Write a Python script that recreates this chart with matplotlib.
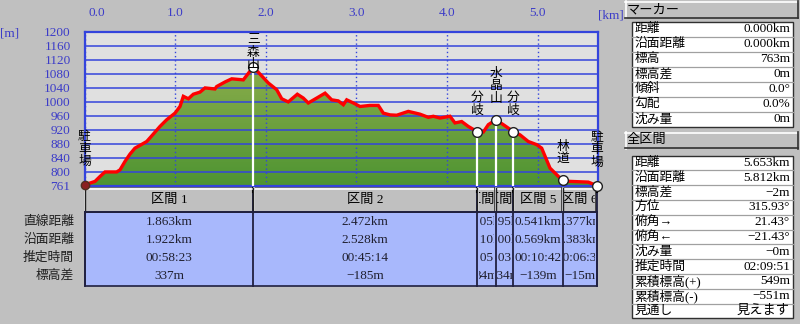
import matplotlib
matplotlib.use('Agg')
import matplotlib.pyplot as plt
import numpy as np
from matplotlib.patches import Rectangle
from matplotlib.lines import Line2D
from matplotlib.transforms import Bbox, ScaledTranslation
from matplotlib.colors import LinearSegmentedColormap

plt.rcParams['font.family'] = ['Liberation Serif', 'Noto Sans CJK JP']

# ---------------- data ----------------
dist_km = [0.000, 0.116, 0.171, 0.226, 0.355, 0.392, 0.447, 0.502, 0.557, 0.613,
           0.687, 0.759, 0.833, 0.907, 0.999, 1.054, 1.091, 1.146, 1.201, 1.275,
           1.330, 1.440, 1.459, 1.551, 1.625, 1.753, 1.863, 2.029, 2.121, 2.177,
           2.249, 2.349, 2.415, 2.470, 2.563, 2.655, 2.728, 2.801, 2.857, 2.894,
           2.967, 3.041, 3.151, 3.243, 3.298, 3.372, 3.446, 3.574, 3.703, 3.795,
           3.850, 3.924, 4.034, 4.089, 4.163, 4.236, 4.335, 4.402, 4.457, 4.540,
           4.623, 4.735, 4.807, 4.898, 4.991, 5.046, 5.138, 5.212, 5.276, 5.359,
           5.561, 5.653]
elev_m = [763, 773, 787, 800, 800, 806, 830, 851, 868, 876,
          887, 908, 930, 949, 968, 987, 1016, 1009, 1022, 1028,
          1040, 1037, 1044, 1057, 1066, 1063, 1100, 1054, 1035, 1009,
          1000, 1022, 1011, 997, 1011, 1025, 1006, 1003, 992, 1006,
          997, 987, 990, 990, 968, 963, 962, 973, 965, 956,
          959, 954, 959, 940, 944, 930, 915, 914, 935, 949,
          935, 915, 906, 887, 878, 868, 811, 792, 776, 773,
          771, 761]

wp_names = ['駐車場', '三森山', '分岐', '水晶山', '分岐', '林道', '駐車場']
wp_elev = [763, 1100, 915, 949, 915, 776, 761]

km_ticks = [0, 1, 2, 3, 4, 5]
km_labels = ['0.0', '1.0', '2.0', '3.0', '4.0', '5.0']
m_ticks = [761, 800, 840, 880, 920, 960, 1000, 1040, 1080, 1120, 1160, 1200]
m_labels = ['761', '800', '840', '880', '920', '960', '1000', '1040', '1080',
            '1120', '1160', '1200']

sec_names = ['区間 1', '区間 2', '区間 3', '区間 4', '区間 5', '区間 6']
sec_straight_km = [1.863, 2.472, 0.205, 0.195, 0.541, 0.377]
sec_surface_km = [1.922, 2.528, 0.210, 0.200, 0.569, 0.383]
sec_time = ['00:58:23', '00:45:14', '00:05:40', '00:03:17', '00:10:42', '00:06:35']
sec_dh_m = [337, -185, 34, -34, -139, -15]
row_labels = ['直線距離', '沿面距離', '推定時間', '標高差']

marker_keys = ['距離', '沿面距離', '標高', '標高差', '傾斜', '勾配', '沈み量']
marker_vals = ['0.000km', '0.000km', '763m', '0m', '0.0°', '0.0%', '0m']
total_keys = ['距離', '沿面距離', '標高差', '方位', '俯角→', '俯角←', '沈み量',
              '推定時間', '累積標高(+)', '累積標高(-)', '見通し']
total_vals = ['5.653km', '5.812km', '−2m', '315.93°', '21.43°', '−21.43°', '−0m',
              '02:09:51', '549m', '−551m', '見えます']

# ---------------- figure ----------------
W, H = 800, 324
BG = '#c0c0c0'
BLUE_TXT = '#3c3cc8'
GRID_BLUE = '#3444dc'
fig = plt.figure(figsize=(W / 100, H / 100), dpi=100, facecolor=BG)


def px_axes(x0, y0, x1, y1):
    return fig.add_axes([x0 / W, 1 - y1 / H, (x1 - x0) / W, (y1 - y0) / H])


overlay = fig.add_axes([0, 0, 1, 1])
overlay.set_xlim(0, W)
overlay.set_ylim(H, 0)
overlay.axis('off')
overlay.patch.set_visible(False)
overlay.set_zorder(0)

ax = px_axes(84.5, 31.9, 597.5, 185.6)
ax.set_zorder(2)
ax.set_facecolor('#e0e0e0')
xmax = (597.5 - 84.5) / 90.6
ax.set_xlim(0, xmax)
ax.set_ylim(761, 1200)

d = np.array(dist_km)
e = np.array(elev_m)

# gradient fill
poly = ax.fill_between(d, e, 761, color='none', lw=0)
cmap = LinearSegmentedColormap.from_list('g', ['#4e9432', '#9cb452'])
grad = np.linspace(0, 1, 256).reshape(-1, 1)
im = ax.imshow(grad, extent=[0, xmax, 761, 1200], origin='lower', aspect='auto',
               cmap=cmap, zorder=1)
im.set_clip_path(poly.get_paths()[0], transform=ax.transData)

ax.plot(d, e, color='#ff0000', lw=2.4, zorder=3, solid_joinstyle='miter')

# grid
ax.set_yticks(m_ticks, m_labels)
ax.set_xticks(km_ticks, km_labels)
ax.yaxis.grid(True, color=GRID_BLUE, lw=1.1, ls='-')
ax.xaxis.grid(True, color=GRID_BLUE, lw=1.0, ls=(0, (1, 2)))
ax.set_axisbelow(False)
ax.xaxis.tick_top()
ax.tick_params(axis='x', length=0, pad=9, labelcolor=BLUE_TXT, labelsize=9.5)
ax.tick_params(axis='y', length=0, pad=10, labelcolor=BLUE_TXT, labelsize=9.5)
first = ax.get_xticklabels()[0]
first.set_horizontalalignment('left')
first.set_transform(first.get_transform() + ScaledTranslation(4 / 100, 0, fig.dpi_scale_trans))
for sp in ax.spines.values():
    sp.set_color(GRID_BLUE)
    sp.set_linewidth(1.6)

# waypoints
wp_dist = np.concatenate([[0], np.cumsum(sec_straight_km)])
for i, (name, wd, we) in enumerate(zip(wp_names, wp_dist, wp_elev)):
    if 0 < i < 5:
        ax.plot([wd, wd], [761, we], color='white', lw=1.6, zorder=2.7)
    if i == 0:
        ax.plot(wd, we, marker='o', ms=6, color='#8b2020', mec='#503020',
                zorder=4, clip_on=False)
    else:
        ax.plot(wd, we, marker='o', ms=7, mfc='white', mec='#202020', mew=1.0,
                zorder=4, clip_on=False)
    if i == 1:
        off = -3
    elif i in (0, 6):
        off = 12
    else:
        off = 11
    ax.annotate('\n'.join(name), xy=(wd, we), xytext=(0, off), textcoords='offset points',
                ha='center', va='bottom', fontsize=9.2, linespacing=0.95,
                family=['Noto Sans CJK JP'], zorder=5, annotation_clip=False)

# axis unit labels
overlay.text(10, 34, '[m]', color=BLUE_TXT, fontsize=9.5, ha='center', va='center')
overlay.text(611, 15, '[km]', color=BLUE_TXT, fontsize=9.5, ha='center', va='center')


# ---------------- helpers ----------------
def bevel(x0, y0, x1, y1, face=BG):
    overlay.add_patch(Rectangle((x0, y0), x1 - x0, y1 - y0, facecolor=face, edgecolor='none'))
    overlay.add_line(Line2D([x0, x1], [y0 + 0.5, y0 + 0.5], color='white', lw=1.2))
    overlay.add_line(Line2D([x0 + 0.5, x0 + 0.5], [y0, y1], color='white', lw=1.2))
    overlay.add_line(Line2D([x0, x1], [y1 - 0.5, y1 - 0.5], color='#303030', lw=1.2))
    overlay.add_line(Line2D([x1 - 0.5, x1 - 0.5], [y0, y1], color='#303030', lw=1.2))


def clipped_text(x, y, s, box, **kw):
    t = overlay.text(x, y, s, **kw)
    t.set_clip_path(None)
    t.set_clip_box(box)
    t.set_clip_on(True)
    return t


def table(x0, x1, y0, rowh, keys, vals):
    n = len(keys)
    overlay.add_patch(Rectangle((x0, y0), x1 - x0, rowh * n, facecolor='white',
                                edgecolor='#303030', lw=1.0))
    for k in range(1, n):
        overlay.add_line(Line2D([x0, x1], [y0 + k * rowh] * 2, color='#a0a0a0', lw=0.9))
    for k, (kk, vv) in enumerate(zip(keys, vals)):
        yc = y0 + (k + 0.5) * rowh
        overlay.text(x0 + 2.5, yc, kk, ha='left', va='center', fontsize=9.2, color='black')
        overlay.text(x1 - 3, yc, vv, ha='right', va='center', fontsize=9.5, color='black')


# ---------------- right panel ----------------
bevel(625, 1, 798, 18)
overlay.text(627, 10, 'マーカー', ha='left', va='center', fontsize=9.5)
table(632, 793, 21.7, 15.0, marker_keys, marker_vals)
bevel(625, 132, 798, 148.5)
overlay.text(627, 140.5, '全区間', ha='left', va='center', fontsize=9.5)
table(632, 793, 155.5, 14.8, total_keys, total_vals)

# ---------------- section table ----------------
bx = [ax.transData.transform((b, 761))[0] for b in wp_dist]
hy0, hy1 = 188, 212
dy0, dy1 = 212, 286
overlay.add_line(Line2D([84, 597], [186.8, 186.8], color='#606060', lw=1.2))
overlay.add_patch(Rectangle((bx[0], dy0), bx[-1] - bx[0], dy1 - dy0,
                            facecolor='#a8b8fc', edgecolor='#202040', lw=1.2))
fmt_rows = [[f'{v:.3f}km' for v in sec_straight_km],
            [f'{v:.3f}km' for v in sec_surface_km],
            sec_time,
            [f'{v}m'.replace('-', '−') for v in sec_dh_m]]
row_y = [222, 240, 258, 276]
for i in range(len(sec_names)):
    x0, x1 = bx[i], bx[i + 1]
    bevel(x0, hy0, x1, hy1)
    overlay.add_line(Line2D([x0, x0], [hy0, hy1], color='#202020', lw=1.0))
    overlay.add_line(Line2D([x1, x1], [hy0, dy1], color='#202040', lw=1.3))
    overlay.add_line(Line2D([x1, x1], [hy0, hy0 + 4], color='black', lw=1.5))
    hb = Bbox([[x0 + 1.5, H - hy1 + 1], [x1 - 1.5, H - hy0 - 1]])
    clipped_text((x0 + x1) / 2, (hy0 + hy1) / 2 + 0.5, sec_names[i], hb,
                 ha='center', va='center', fontsize=9.5)
    db = Bbox([[x0 + 1.5, H - dy1], [x1 - 1.5, H - dy0]])
    for r in range(4):
        clipped_text((x0 + x1) / 2, row_y[r], fmt_rows[r][i], db,
                     ha='center', va='center', fontsize=9.5, color='#202030')
overlay.add_line(Line2D([bx[0], bx[-1]], [dy0, dy0], color='#202040', lw=1.3))
overlay.add_line(Line2D([bx[0], bx[0]], [dy0, dy1], color='#202040', lw=1.3))
for r, lab in enumerate(row_labels):
    overlay.text(74, row_y[r], lab, ha='right', va='center', fontsize=9.2, color='#202020')

fig.savefig('out.png', dpi=100, facecolor=BG)
